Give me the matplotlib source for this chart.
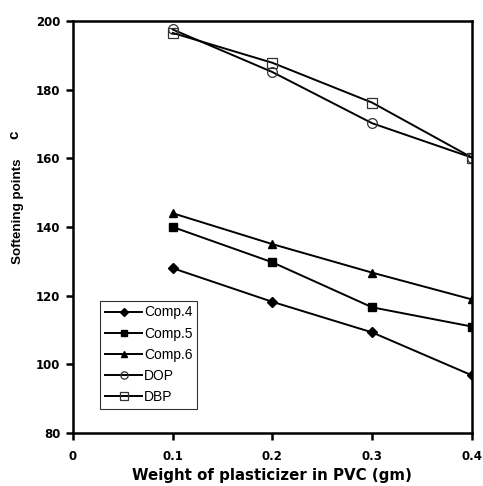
import matplotlib.pyplot as plt

plt.rcParams['font.family'] = ['Liberation Sans', 'DejaVu Sans']

# plasticizer weight (gm)
weight = [0.1, 0.2, 0.3, 0.4]

# softening points for each plasticizer
comp4 = [128.0, 118.2, 109.3, 96.8]
comp5 = [140.0, 129.7, 116.6, 111.0]
comp6 = [144.0, 135.0, 126.7, 118.9]
dop = [197.5, 185.1, 170.2, 160.2]
dbp = [196.5, 187.8, 176.2, 160.2]

fig = plt.figure(figsize=(4.83, 4.86), dpi=100)
ax = fig.add_axes([0.151, 0.109, 0.826, 0.848])

ax.plot(weight, comp4, color='black', lw=1.4, marker='D', ms=5, label='Comp.4')
ax.plot(weight, comp5, color='black', lw=1.4, marker='s', ms=6, label='Comp.5')
ax.plot(weight, comp6, color='black', lw=1.4, marker='^', ms=6, label='Comp.6')
ax.plot(weight, dop, color='black', lw=1.4, marker='o', ms=7, mfc='none',
        mec='#333333', mew=0.9, label='DOP')
ax.plot(weight, dbp, color='black', lw=1.4, marker='s', ms=7, mfc='none',
        mec='#333333', mew=0.9, label='DBP')

ax.set_xlim(0, 0.4)
ax.set_ylim(80, 200)
ax.set_xticks([0, 0.1, 0.2, 0.3, 0.4])
ax.set_xticklabels(['0', '0.1', '0.2', '0.3', '0.4'])
ax.set_yticks(range(80, 201, 20))

for s in ax.spines.values():
    s.set_linewidth(1.8)
ax.tick_params(direction='out', length=5, width=1.8, labelsize=8.5, pad=4)
for lab in ax.get_xticklabels() + ax.get_yticklabels():
    lab.set_fontweight('bold')
    lab.set_family('DejaVu Sans')
ax.tick_params(axis='x', pad=7)

ax.set_xlabel('Weight of plasticizer in PVC (gm)', fontsize=10.8, fontweight='bold',
              family='DejaVu Sans', labelpad=4)
# y label sits above the axes centre in the original, so place it by hand
fig.text(0.037, 0.566, 'Softening points', rotation=90, fontsize=9.6, fontweight='bold',
         ha='center', va='center')
fig.text(0.029, 0.722, 'c', rotation=90, fontsize=11, fontweight='bold', ha='center', va='center')

leg = ax.legend(loc='lower left', bbox_to_anchor=(0.068, 0.058), fontsize=10, frameon=True,
                fancybox=False, edgecolor='black', handlelength=2.7, handletextpad=0.1,
                borderpad=0.35, labelspacing=0.52, borderaxespad=0, markerscale=0.75)
leg.get_frame().set_linewidth(0.8)

fig.savefig('out.png', dpi=100)
